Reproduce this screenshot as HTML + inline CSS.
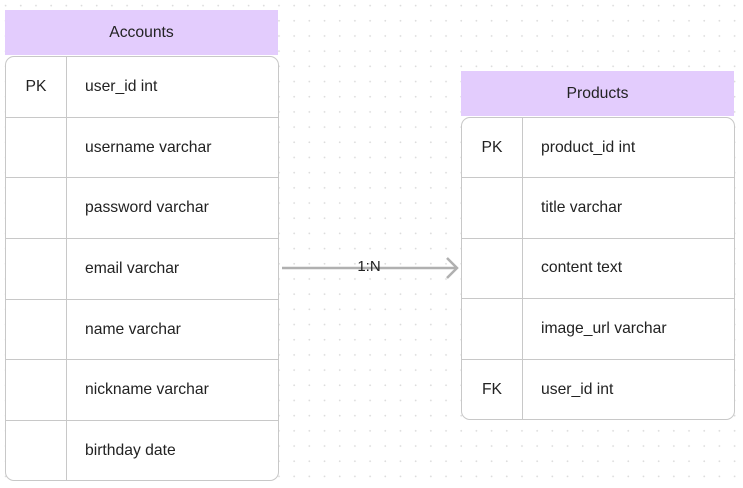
<!DOCTYPE html>
<html><head><style>
body{margin:0;width:743px;height:488px;background:#fff;position:relative;overflow:hidden;font-family:"Liberation Sans",sans-serif;color:#222;
background-image:radial-gradient(circle,#dcdcdc 0.7px,transparent 1.1px);background-size:15.2px 15.2px;background-position:-2px -2px;}
.hdr{position:absolute;background:#e3ccfd;text-align:center;font-size:15.7px;line-height:45px;}
.tb{position:absolute;background:#fff;border:1px solid #c8c8c8;border-radius:9px;box-sizing:border-box;overflow:hidden;}
.row{position:relative;border-bottom:1px solid #c8c8c8;box-sizing:border-box;font-size:15.7px;}
.row:last-child{border-bottom:none}
.k{position:absolute;left:0;width:60px;top:0;bottom:0;border-right:1px solid #c8c8c8;display:flex;align-items:center;justify-content:center}
.v{position:absolute;left:79px;top:0;bottom:0;display:flex;align-items:center}
</style></head><body>
<div class="hdr" style="left:5px;top:10px;width:273px;height:45px">Accounts</div>
<div class="tb" style="left:5px;top:56px;width:274px;height:425px">
<div class="row" style="height:60.7px"><div class="k">PK</div><div class="v">user_id int</div></div>
<div class="row" style="height:60.7px"><div class="k"></div><div class="v">username varchar</div></div>
<div class="row" style="height:60.7px"><div class="k"></div><div class="v">password varchar</div></div>
<div class="row" style="height:60.7px"><div class="k"></div><div class="v">email varchar</div></div>
<div class="row" style="height:60.7px"><div class="k"></div><div class="v">name varchar</div></div>
<div class="row" style="height:60.7px"><div class="k"></div><div class="v">nickname varchar</div></div>
<div class="row" style="height:60.7px"><div class="k"></div><div class="v">birthday date</div></div>
</div>
<div class="hdr" style="left:461px;top:71px;width:273px;height:45px">Products</div>
<div class="tb" style="left:461px;top:117px;width:274px;height:303px">
<div class="row" style="height:60.4px"><div class="k">PK</div><div class="v">product_id int</div></div>
<div class="row" style="height:60.4px"><div class="k"></div><div class="v">title varchar</div></div>
<div class="row" style="height:60.4px"><div class="k"></div><div class="v">content text</div></div>
<div class="row" style="height:60.4px"><div class="k"></div><div class="v">image_url varchar</div></div>
<div class="row" style="height:60.4px"><div class="k">FK</div><div class="v">user_id int</div></div>
</div>
<svg style="position:absolute;left:0;top:0" width="743" height="488">
<line x1="282" y1="268" x2="457" y2="268" stroke="#b0b0b0" stroke-width="2.5"/>
<polyline points="447,258 457,268 447,278" fill="none" stroke="#b0b0b0" stroke-width="2.5"/>
<text x="369" y="271" font-size="15" text-anchor="middle" fill="#222" font-family="Liberation Sans">1:N</text>
</svg>
</body></html>
